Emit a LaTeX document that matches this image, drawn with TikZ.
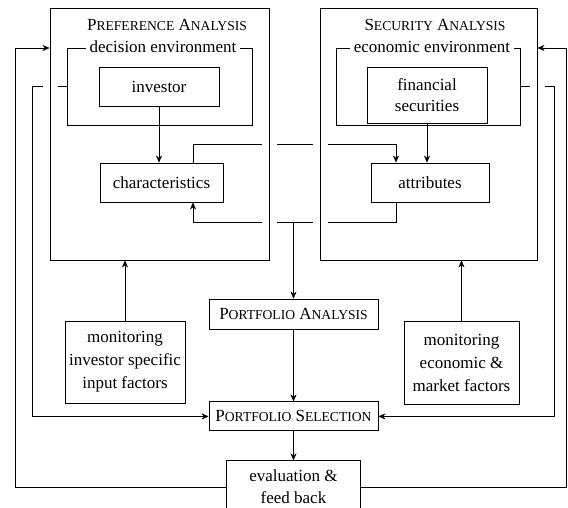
\documentclass[tikz,border=0pt]{standalone}
\usepackage{fontspec}
\setmainfont{Liberation Serif}
\usepackage{tikz}
\usetikzlibrary{positioning}
\usetikzlibrary{arrows.meta}
\usetikzlibrary{backgrounds}

\newcommand{\kap}[2]{#1{\fontsize{13.6}{16}\selectfont #2}}

\begin{document}
\begin{tikzpicture}[x=1pt,y=-1pt,>={Stealth[length=7pt,width=6pt]},line width=0.9pt,
	font=\fontsize{17}{23}\selectfont,
	main node/.style={draw,inner sep=0pt,align=center},
	big node/.style={draw,inner sep=0pt,preaction={draw=white,line width=15pt}},
	env node/.style={draw,inner sep=0pt},
	env label/.style={fill=white,inner xsep=4pt,inner ysep=1pt}]
	
	\useasboundingbox (0,0) rectangle (568,507);
	\clip (0,0) rectangle (568,507);
	
	% the two analysis blocks
	\node[big node,minimum width=219pt,minimum height=252pt] (pref) at (159.5,134) {};
	\node[big node,minimum width=217pt,minimum height=252pt] (secu) at (428.5,134) {};
	\node (preftitle) at (167,25) {\kap{P}{REFERENCE} \kap{A}{NALYSIS}};
	\node (secutitle) at (435,25) {\kap{S}{ECURITY} \kap{A}{NALYSIS}};
	
	\node[env node,minimum width=185pt,minimum height=77pt] (decenv) at (159.5,86.5) {};
	\node[env node,minimum width=184pt,minimum height=77pt] (ecoenv) at (428,86.5) {};
	\node[env label] (declabel) at (163,47) {decision environment};
	\node[env label] (ecolabel) at (432,47) {economic environment};
	
	\node[main node,minimum width=120pt,minimum height=39pt] (investor) at (159,86.5) {investor};
	\node[main node,minimum width=120pt,minimum height=56pt,font=\fontsize{17}{21}\selectfont] (finsec) at (427,95) {financial\\securities};
	\node[main node,minimum width=123pt,minimum height=39pt] (charac) at (161.5,182.5) {characteristics};
	\node[main node,minimum width=118pt,minimum height=39pt] (attrib) at (430,182.5) {attributes};
	
	% portfolio chain
	\node[main node,minimum width=169pt,minimum height=30pt] (portana) at (293.5,314) {\kap{P}{ORTFOLIO} \kap{A}{NALYSIS}};
	\node[main node,minimum width=169pt,minimum height=29pt] (portsel) [below=72pt of portana] {\kap{P}{ORTFOLIO} \kap{S}{ELECTION}};
	\node[main node,minimum width=134pt,minimum height=52pt,font=\fontsize{17}{22}\selectfont] (evalfb) [below=29pt of portsel] {evaluation \&\\feed back};
	
	\node[main node,minimum width=120pt,minimum height=82pt] (moninv) at (125,362) {monitoring\\investor specific\\input factors};
	\node[main node,minimum width=115pt,minimum height=83pt] (moneco) at (461.5,362.5) {monitoring\\economic \&\\market factors};
	
	% lines crossing the block borders
	\begin{pgfonlayer}{background}
		\coordinate (c1) at (193,144);
		\coordinate (c2) at (396,144);
		\coordinate (a1) at (396,222);
		\coordinate (a2) at (193,222);
		\draw[->] (charac.north -| c1) -- (c1) -- (c2) -- (attrib.north -| c2);
		\draw[->] (attrib.south -| a1) -- (a1) -- (a2) -- (charac.south -| a2);
		\draw[->] (decenv.west) -- ++(-34,0) |- (portsel.west);
		\draw[->] (ecoenv.east) -- ++(34,0) |- (portsel.east);
	\end{pgfonlayer}
	
	\draw[->] (investor.south) -- (investor.south |- charac.north);
	\draw[->] (finsec.south) -- (finsec.south |- attrib.north);
	\draw[->] (portana.north |- a1) -- (portana.north);
	\draw[->] (portana) -- (portsel);
	\draw[->] (portsel) -- (evalfb);
	\draw[->] (moninv.north) -- (moninv.north |- pref.south);
	\draw[->] (moneco.north) -- (moneco.north |- secu.south);
	
	% feed back
	\coordinate (fl) at (15,48);
	\coordinate (fr) at (566,48);
	\draw[->] (evalfb.west) -| (fl) -- (fl -| pref.west);
	\draw[->] (evalfb.east) -| (fr) -- (fr -| secu.east);
\end{tikzpicture}
\end{document}
